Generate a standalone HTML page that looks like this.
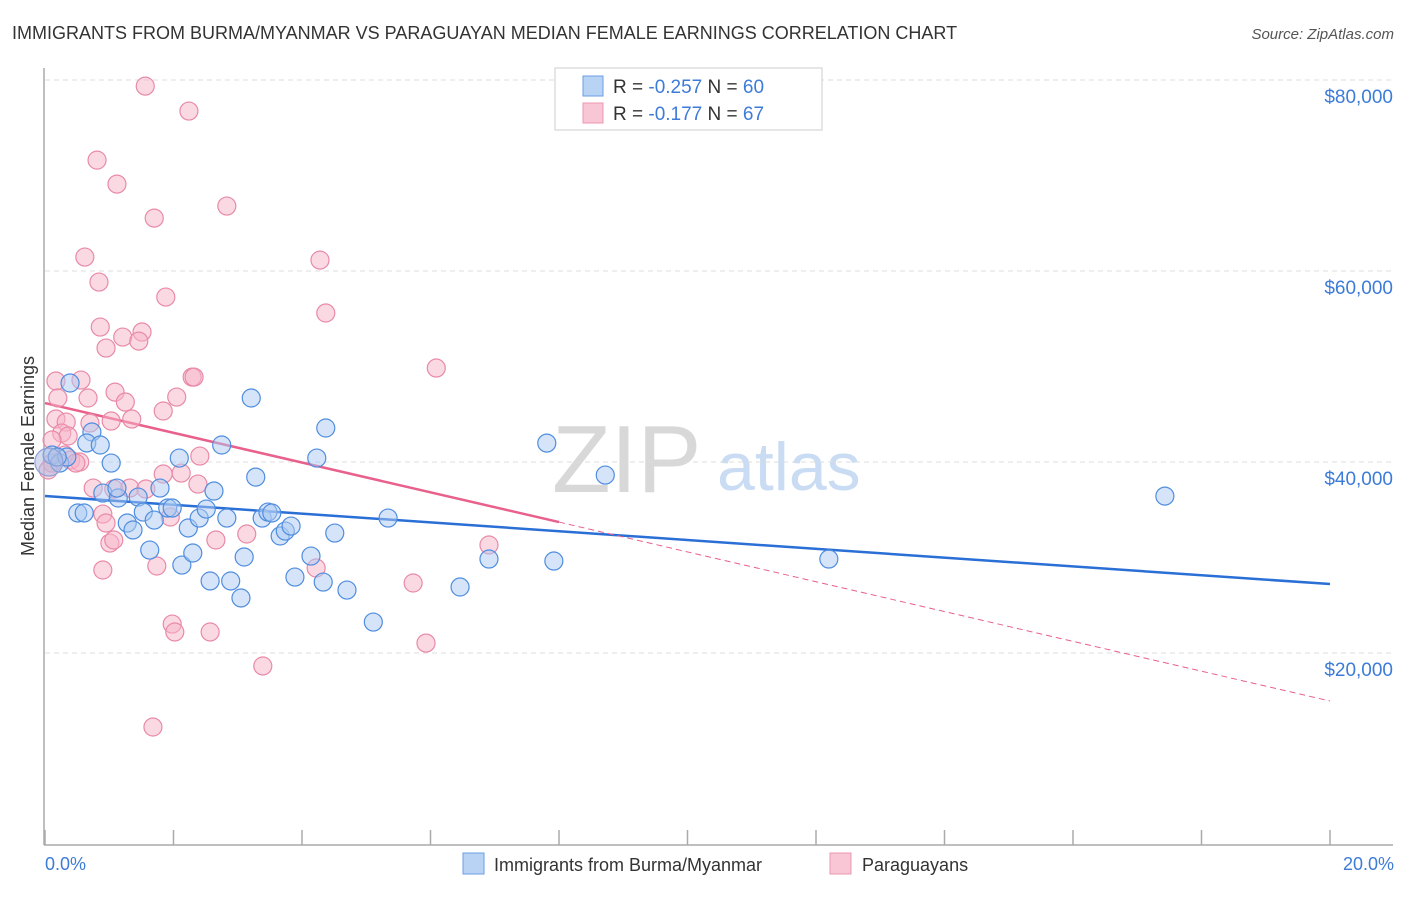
<!DOCTYPE html>
<html><head><meta charset="utf-8"><style>
body{margin:0;background:#fff;font-family:"Liberation Sans",sans-serif;}
svg text{font-family:"Liberation Sans",sans-serif;}
</style></head><body>
<svg width="1406" height="892" xmlns="http://www.w3.org/2000/svg">
<text x="12" y="39" font-size="18" fill="#333">IMMIGRANTS FROM BURMA/MYANMAR VS PARAGUAYAN MEDIAN FEMALE EARNINGS CORRELATION CHART</text>
<text x="1394" y="39" font-size="15" fill="#555" font-style="italic" text-anchor="end">Source: ZipAtlas.com</text>
<g>
<text x="552" y="492" font-size="96" fill="#d8d8d8" font-family="Liberation Serif">ZIP</text>
<text x="717" y="490" font-size="68" fill="#c9dcf3">atlas</text>
</g>
<g id="grid"></g>
<g id="axes"></g>
<g id="trends"></g>
<g id="points"></g>
<text x="34" y="456" font-size="18" fill="#333" text-anchor="middle" transform="rotate(-90 34 456)">Median Female Earnings</text>
<text x="45" y="870" font-size="18" fill="#3d7bd9">0.0%</text>
<text x="1394" y="870" font-size="18" fill="#3d7bd9" text-anchor="end">20.0%</text>
<g>
<rect x="555" y="68" width="267" height="62" fill="#fff" stroke="#ccc"/>
<rect x="583" y="76" width="20" height="20" fill="#b9d3f5" stroke="#6a9ee6"/>
<rect x="583" y="103" width="20" height="20" fill="#f9c6d5" stroke="#eb97b1"/>
<text x="613" y="93" font-size="19" fill="#333">R = <tspan fill="#3d7bd9">-0.257</tspan>   N = <tspan fill="#3d7bd9">60</tspan></text>
<text x="613" y="120" font-size="19" fill="#333">R =  <tspan fill="#3d7bd9">-0.177</tspan>   N =  <tspan fill="#3d7bd9">67</tspan></text>
</g>
<g>
<rect x="463" y="853" width="21" height="21" fill="#b9d3f5" stroke="#6a9ee6"/>
<text x="494" y="871" font-size="18" fill="#333">Immigrants from Burma/Myanmar</text>
<rect x="830" y="853" width="21" height="21" fill="#f9c6d5" stroke="#eb97b1"/>
<text x="862" y="871" font-size="18" fill="#333">Paraguayans</text>
</g>
</svg>
<script>
const yTicks=[20000,40000,60000,80000];
const yTickLabels=["$20,000","$40,000","$60,000","$80,000"];
const xTicks=[0,2,4,6,8,10,12,14,16,18,20];
const blueX=[0.39,0.73,0.65,0.86,1.03,0.11,0.23,0.34,0.51,0.61,0.90,1.14,1.12,1.28,1.37,1.45,1.53,1.63,1.70,1.79,1.91,1.98,2.09,2.13,2.23,2.30,2.40,2.51,2.57,2.63,2.75,2.83,2.89,3.05,3.10,3.21,3.28,3.38,3.47,3.53,3.66,3.74,3.83,3.89,4.14,4.23,4.33,4.37,4.51,4.70,5.11,5.34,6.46,6.91,7.81,7.92,8.72,12.20,17.43,0.19];
const blueY=[48270,43140,41990,41780,39890,40730,39890,40520,34660,34660,36750,36230,37270,33610,32880,36330,34760,30780,33920,37270,35180,35180,40410,29210,33090,30470,34130,35070,27540,36960,41780,34130,27540,25760,30050,46700,38420,34130,34760,34660,32250,32770,33290,27950,30150,40410,27430,43560,32560,26590,23240,34130,26910,29840,41980,29630,38630,29840,36430,40520];
const pinkX=[1.56,2.24,0.81,1.12,2.83,1.70,0.62,4.28,0.84,1.88,4.37,0.86,1.51,0.95,1.21,1.46,0.17,0.56,2.29,2.32,6.09,0.20,0.67,1.09,1.25,1.84,2.05,0.17,0.33,1.03,0.70,0.26,0.36,1.35,0.11,0.31,0.40,0.54,0.48,0.75,0.90,1.07,1.32,1.57,1.84,2.12,2.41,2.38,0.95,1.95,1.01,1.07,0.90,1.74,3.14,2.66,4.22,5.73,6.91,1.98,2.02,2.57,5.93,3.39,1.68,0.05,0.11];
const pinkY=[79360,76750,71610,69100,66800,65540,61460,61140,58840,57270,55600,54130,53610,51930,53080,52660,48480,48580,48890,48890,49840,46700,46700,47320,46280,45340,46800,44500,44180,44290,44080,43030,42720,44500,39890,40730,40200,40000,39890,37270,34550,37170,37270,37170,38740,38840,40620,37690,33610,34240,31510,31830,28690,29110,32460,31830,28900,27330,31310,23030,22200,22200,21040,18640,12250,39160,42300];
const blueTrendX=[0,20];
const blueTrendY=[36440,27220];
const pinkTrendX=[0,8.0,20];
const pinkTrendY=[46170,33710,14970];
const X0=45,X1=1330,YB=844,PXPER=191/20000;
const sx=v=>X0+(v/20)*(X1-X0);
const sy=v=>YB-v*PXPER;
const NS="http://www.w3.org/2000/svg";
function mk(t,a,p){const e=document.createElementNS(NS,t);for(const k in a)e.setAttribute(k,a[k]);p.appendChild(e);return e;}
const grid=document.getElementById('grid'),axes=document.getElementById('axes'),tr=document.getElementById('trends'),pts=document.getElementById('points');
yTicks.forEach((v,i)=>{
 const l=mk('line',{x1:45,x2:1393,y1:sy(v),y2:sy(v),stroke:'#ddd','stroke-dasharray':'5,4'},grid);
 
 
 const t=mk('text',{x:1393,y:sy(v)+23,'font-size':19,fill:'#3d7bd9','text-anchor':'end'},grid);
 t.textContent=yTickLabels[i];
 
 
});
const ya=mk('line',{x1:44,x2:44,y1:68,y2:845,stroke:'#aaa','stroke-width':1.5},axes);


const xa=mk('line',{x1:44,x2:1393,y1:845,y2:845,stroke:'#aaa','stroke-width':1.5},axes);


xTicks.forEach(v=>{
 const t=mk('line',{x1:sx(v),x2:sx(v),y1:830,y2:845,stroke:'#aaa','stroke-width':1.5},axes);
 
 
});
function dot(x,y,fill,stroke,name,r){
 const c=mk('circle',{cx:sx(x),cy:sy(y),r:r||9,fill:fill,'fill-opacity':0.5,stroke:stroke,'stroke-width':1.2},pts);
 
 
}
pinkX.forEach((x,i)=>dot(x,pinkY[i],'#f7b4c8','#e88aa8','pink-point'));
blueX.forEach((x,i)=>dot(x,blueY[i],'#abc9f2','#4f8ddf','blue-point'));
dot(0.06,40000,'#a9b8e0','#8fa0d8','cluster-point',14);
const bl=mk('line',{x1:sx(blueTrendX[0]),y1:sy(blueTrendY[0]),x2:sx(blueTrendX[1]),y2:sy(blueTrendY[1]),stroke:'#2a6fd6','stroke-width':2.5},tr);


const pl=mk('line',{x1:sx(pinkTrendX[0]),y1:sy(pinkTrendY[0]),x2:sx(pinkTrendX[1]),y2:sy(pinkTrendY[1]),stroke:'#e8608b','stroke-width':2.5},tr);


const pd=mk('line',{x1:sx(pinkTrendX[1]),y1:sy(pinkTrendY[1]),x2:sx(pinkTrendX[2]),y2:sy(pinkTrendY[2]),stroke:'#e8608b','stroke-width':1,'stroke-dasharray':'6,4'},tr);


</script>
</body></html>
